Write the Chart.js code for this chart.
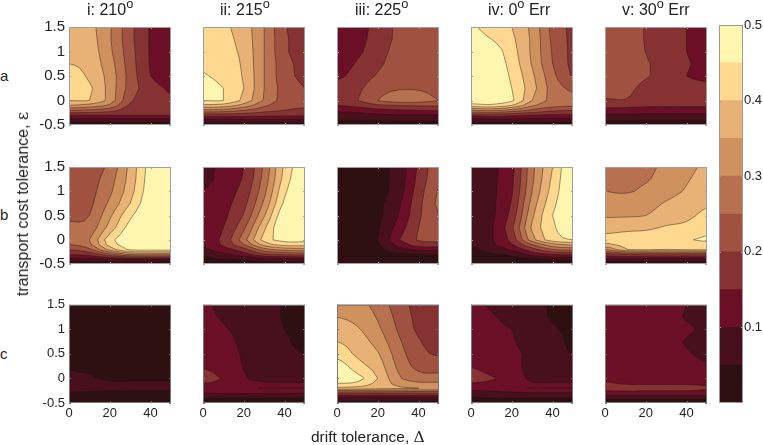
<!DOCTYPE html>
<html><head><meta charset="utf-8">
<script src="https://cdn.jsdelivr.net/npm/chart.js@4"></script>
<style>
html,body{margin:0;padding:0;background:#fff;width:763px;height:445px;overflow:hidden}
canvas{position:absolute}
.t{position:absolute;font-family:"Liberation Sans",Arial,sans-serif;color:#222;white-space:nowrap;line-height:1}
sup{font-size:.8em;line-height:0;vertical-align:baseline;position:relative;top:-.55em}
.s{font-family:"DejaVu Serif","Liberation Serif",serif}
</style></head><body>
<script>
const driftValues=[0,10,20,30,40,50];
const costValues=[1.5,1.25,1,0.75,0.5,0.25,0,-0.1,-0.2,-0.3,-0.4,-0.5];
const levels=[0,0.05,0.1,0.15,0.2,0.25,0.3,0.35,0.4,0.45,0.5];
const bandColors=["#2F1011","#480F1D","#6A0F26","#863232","#A1513F","#B8714F","#CF925F","#E8B176","#FDD88E","#FEF5AE"];
const columnTitles=["i: 210","ii: 215","iii: 225","iv: 0","v: 30"];
const columnSuffix=["","",""," Err"," Err"];
const rowNames=["a","b","c"];
const colorbarTicks=[0.1,0.2,0.3,0.4,0.5];

// each panel: one list per drift value, running over costValues
const aI=[
[.38,.385,.39,.40,.43,.43,.40,.35,.25,.15,.08,.02],
[.365,.37,.375,.38,.39,.41,.40,.33,.24,.15,.08,.02],
[.305,.305,.31,.32,.33,.33,.33,.29,.22,.15,.08,.02],
[.215,.215,.22,.225,.23,.23,.21,.19,.17,.15,.08,.02],
[.145,.145,.145,.145,.15,.17,.17,.17,.165,.15,.08,.02],
[.125,.125,.125,.125,.13,.145,.155,.16,.16,.15,.08,.02]];
const aII=[
[.44,.44,.44,.44,.455,.48,.45,.39,.29,.17,.09,.02],
[.41,.415,.42,.43,.43,.45,.45,.38,.28,.17,.09,.02],
[.375,.38,.385,.39,.395,.40,.385,.33,.25,.17,.09,.02],
[.30,.30,.30,.30,.30,.30,.295,.26,.22,.165,.09,.02],
[.205,.21,.21,.22,.22,.23,.23,.22,.20,.16,.09,.02],
[.18,.18,.18,.185,.19,.20,.22,.21,.19,.16,.09,.02]];
const aIII=[
[.115,.115,.12,.125,.14,.17,.175,.15,.11,.075,.05,.02],
[.135,.135,.14,.155,.17,.19,.2,.165,.12,.08,.05,.02],
[.165,.17,.18,.19,.205,.23,.25,.19,.135,.09,.055,.02],
[.21,.21,.215,.22,.225,.245,.28,.2,.145,.095,.06,.02],
[.22,.22,.22,.225,.23,.245,.275,.205,.15,.095,.06,.02],
[.23,.23,.23,.23,.23,.235,.25,.205,.155,.10,.06,.02]];
const aIV=[
[.46,.48,.50,.50,.50,.50,.49,.43,.30,.16,.07,.02],
[.42,.45,.48,.49,.50,.50,.49,.44,.31,.17,.08,.02],
[.40,.41,.42,.43,.44,.45,.46,.40,.28,.16,.08,.02],
[.335,.34,.34,.345,.36,.37,.35,.31,.24,.15,.08,.02],
[.235,.24,.245,.25,.265,.28,.285,.27,.21,.14,.08,.02],
[.19,.19,.19,.19,.195,.24,.27,.26,.20,.14,.08,.02]];
const aV=[
[.24,.24,.24,.235,.235,.225,.195,.17,.13,.09,.055,.02],
[.225,.225,.225,.225,.225,.215,.198,.165,.13,.09,.055,.02],
[.197,.197,.199,.205,.205,.185,.18,.16,.125,.09,.055,.02],
[.17,.17,.17,.18,.18,.175,.175,.16,.125,.09,.055,.02],
[.15,.15,.15,.155,.15,.165,.17,.16,.125,.09,.055,.02],
[.125,.125,.13,.135,.145,.155,.165,.16,.125,.09,.055,.02]];
const bI=[
[.225,.225,.225,.23,.24,.26,.27,.248,.205,.155,.09,.01],
[.225,.23,.235,.24,.25,.27,.30,.29,.24,.17,.09,.01],
[.265,.28,.29,.31,.34,.37,.43,.42,.37,.24,.10,.01],
[.365,.37,.38,.40,.44,.47,.49,.48,.46,.31,.11,.01],
[.47,.475,.48,.49,.50,.50,.50,.49,.47,.32,.11,.01],
[.50,.50,.50,.50,.50,.50,.50,.49,.47,.32,.11,.01]];
const bII=[
[.06,.07,.11,.11,.115,.12,.12,.11,.09,.065,.035,.01],
[.13,.13,.13,.135,.14,.15,.165,.16,.13,.09,.05,.01],
[.15,.155,.17,.185,.205,.24,.28,.25,.18,.13,.06,.015],
[.26,.27,.285,.31,.345,.39,.42,.37,.28,.19,.08,.015],
[.41,.42,.44,.46,.49,.50,.47,.42,.32,.21,.09,.015],
[.49,.50,.50,.50,.50,.50,.47,.42,.33,.22,.09,.015]];
const bIII=[
[.02,.02,.02,.02,.02,.02,.025,.025,.025,.02,.015,.01],
[.025,.025,.025,.025,.03,.03,.035,.035,.03,.025,.015,.01],
[.035,.035,.035,.04,.04,.045,.05,.045,.04,.03,.02,.01],
[.068,.07,.075,.09,.10,.12,.145,.115,.08,.04,.025,.01],
[.158,.165,.175,.185,.19,.20,.205,.175,.11,.05,.03,.01],
[.235,.24,.255,.26,.25,.24,.215,.18,.115,.055,.03,.01]];
const bIV=[
[.06,.06,.06,.06,.06,.06,.055,.052,.04,.03,.02,.01],
[.09,.09,.09,.09,.09,.095,.095,.09,.07,.045,.025,.01],
[.135,.14,.145,.155,.17,.19,.17,.145,.11,.06,.03,.01],
[.285,.29,.30,.32,.34,.36,.33,.25,.18,.12,.04,.01],
[.40,.41,.42,.435,.45,.44,.43,.33,.25,.15,.06,.01],
[.50,.50,.50,.50,.50,.49,.45,.36,.27,.16,.06,.01]];
const bV=[
[.29,.29,.30,.32,.345,.375,.425,.39,.30,.18,.09,.01],
[.285,.285,.295,.325,.345,.385,.43,.415,.395,.20,.09,.01],
[.285,.295,.31,.33,.35,.39,.435,.425,.41,.21,.09,.01],
[.315,.32,.33,.355,.375,.405,.44,.43,.40,.21,.09,.01],
[.335,.345,.355,.375,.39,.41,.445,.43,.41,.21,.09,.01],
[.36,.37,.375,.395,.41,.43,.46,.43,.41,.21,.09,.01]];
const cI=[
[.03,.03,.03,.03,.035,.045,.06,.065,.06,.047,.03,.02],
[.025,.025,.025,.03,.03,.04,.055,.06,.06,.045,.03,.02],
[.02,.02,.02,.025,.03,.035,.045,.055,.06,.042,.03,.02],
[.02,.02,.02,.025,.03,.035,.045,.055,.06,.04,.03,.02],
[.02,.02,.02,.025,.03,.035,.045,.055,.06,.04,.03,.02],
[.02,.02,.02,.025,.03,.035,.045,.055,.06,.04,.03,.02]];
const cII=[
[.105,.11,.12,.125,.13,.145,.17,.15,.125,.10,.05,.02],
[.09,.095,.105,.115,.12,.13,.145,.14,.135,.105,.05,.02],
[.07,.075,.085,.09,.095,.098,.105,.12,.14,.105,.05,.02],
[.06,.06,.065,.07,.075,.08,.085,.105,.153,.105,.05,.02],
[.048,.048,.05,.055,.06,.07,.08,.105,.153,.105,.05,.02],
[.04,.04,.04,.04,.05,.06,.075,.105,.153,.10,.05,.02]];
const cIII=[
[.34,.35,.37,.40,.43,.48,.50,.45,.39,.20,.08,.03],
[.32,.335,.355,.375,.39,.42,.47,.44,.38,.20,.08,.03],
[.28,.295,.31,.33,.355,.375,.40,.385,.37,.20,.08,.03],
[.225,.235,.245,.26,.275,.29,.31,.335,.36,.20,.08,.03],
[.18,.185,.19,.205,.215,.235,.27,.31,.35,.20,.08,.03],
[.148,.155,.165,.18,.195,.225,.27,.31,.35,.20,.08,.03]];
const cIV=[
[.105,.11,.115,.12,.13,.148,.17,.148,.115,.08,.045,.02],
[.095,.105,.115,.115,.12,.13,.155,.14,.12,.085,.05,.02],
[.07,.08,.10,.105,.11,.115,.13,.125,.135,.09,.05,.02],
[.065,.07,.07,.075,.09,.085,.09,.103,.153,.095,.05,.02],
[.045,.045,.055,.065,.075,.08,.08,.105,.153,.095,.05,.02],
[.035,.04,.04,.04,.048,.07,.08,.105,.153,.095,.05,.02]];
const cV=[
[.125,.125,.13,.13,.13,.135,.14,.155,.17,.13,.06,.02],
[.125,.125,.13,.13,.13,.135,.14,.145,.17,.135,.06,.02],
[.125,.125,.13,.13,.13,.13,.135,.145,.165,.135,.06,.02],
[.115,.12,.125,.125,.125,.13,.135,.145,.165,.135,.06,.02],
[.10,.095,.11,.095,.105,.12,.135,.145,.165,.135,.06,.02],
[.09,.085,.09,.085,.09,.105,.135,.145,.155,.135,.06,.02]];
const panels=[[aI,aII,aIII,aIV,aV],[bI,bII,bIII,bIV,bV],[cI,cII,cIII,cIV,cV]];

const panelLeft=[69,203,337,471,605], panelTop=[24,164,303], panelW=102, panelH=[101,100,100];
const titleLeft=[87,220,355,488,622];
const M={l:45,r:10,t:10,b:25};
const FONT='"Liberation Sans",Arial,sans-serif';

// resample each column set along drift so drawn contours run smoothly through the read values
const SUB=4;
function fineDrift(){const o=[];for(let i=0;i<driftValues.length-1;i++)for(let k=0;k<SUB;k++)o.push(driftValues[i]+(driftValues[i+1]-driftValues[i])*k/SUB);o.push(driftValues[driftValues.length-1]);return o;}
function fineColumns(g){
  const n=g.length,out=[];
  for(let i=0;i<n-1;i++)for(let k=0;k<(i===n-2?SUB+1:SUB);k++){
    const t=k/SUB,p0=g[Math.max(i-1,0)],p1=g[i],p2=g[i+1],p3=g[Math.min(i+2,n-1)];
    out.push(p1.map((_,j)=>{
      const a=p0[j],b=p1[j],c=p2[j],d=p3[j];
      const v=0.5*((2*b)+(-a+c)*t+(2*a-5*b+4*c-d)*t*t+(-a+3*b-3*c+d)*t*t*t);
      return Math.max(Math.min(b,c)-0.004,Math.min(Math.max(b,c)+0.004,v));
    }));
  }
  return out;
}
const fineX=fineDrift();

// filled contours: clip every grid cell at each level, placing corners through the chart's scales
const contourPlugin={id:'contour',beforeDatasetsDraw(chart){
  const ds=chart.data.datasets[0]; if(!ds.grid) return;
  const g=fineColumns(ds.grid),ctx=chart.ctx,sx=chart.scales.x,sy=chart.scales.y,a=chart.chartArea;
  ctx.save();ctx.beginPath();ctx.rect(a.left,a.top,a.width,a.height);ctx.clip();
  ctx.fillStyle=bandColors[0];ctx.fillRect(a.left,a.top,a.width,a.height);
  const segs=[];
  for(let l=1;l<bandColors.length;l++){
    const L=levels[l];
    ctx.beginPath();
    for(let i=0;i<fineX.length-1;i++)for(let j=0;j<costValues.length-1;j++){
      const c=[[i,j],[i+1,j],[i+1,j+1],[i,j+1]].map(([p,q])=>({x:sx.getPixelForValue(fineX[p]),y:sy.getPixelForValue(costValues[q]),v:g[p][q]}));
      const poly=[],cross=[];
      for(let k=0;k<4;k++){
        const A=c[k],B=c[(k+1)%4];
        if(A.v>=L)poly.push(A);
        if((A.v>=L)!==(B.v>=L)){
          const t=(L-A.v)/(B.v-A.v);
          const P={x:A.x+t*(B.x-A.x),y:A.y+t*(B.y-A.y)};
          poly.push(P);cross.push(P);
        }
      }
      if(poly.length>2){
        ctx.moveTo(poly[0].x,poly[0].y);
        for(let k=1;k<poly.length;k++)ctx.lineTo(poly[k].x,poly[k].y);
        ctx.closePath();
      }
      for(let k=0;k+1<cross.length;k+=2)segs.push([cross[k],cross[k+1]]);
    }
    ctx.fillStyle=bandColors[l];ctx.fill();
  }
  ctx.beginPath();
  segs.forEach(([p,q])=>{ctx.moveTo(p.x,p.y);ctx.lineTo(q.x,q.y);});
  ctx.strokeStyle='rgba(25,20,15,0.62)';ctx.lineWidth=0.7;ctx.stroke();
  ctx.restore();
}};
// box and inward ticks on all four sides
const framePlugin={id:'frame',afterDatasetsDraw(chart){
  const ctx=chart.ctx,a=chart.chartArea,sx=chart.scales.x,sy=chart.scales.y,col=chart.options.frameColor||'#9a9a9a';
  ctx.save();ctx.strokeStyle=col;ctx.lineWidth=1;ctx.beginPath();
  if(sx.type==='linear')sx.ticks.forEach(t=>{const p=Math.round(sx.getPixelForValue(t.value))+.5;ctx.moveTo(p,a.top);ctx.lineTo(p,a.top+2);ctx.moveTo(p,a.bottom);ctx.lineTo(p,a.bottom-2);});
  sy.ticks.forEach(t=>{const p=Math.round(sy.getPixelForValue(t.value))+.5;ctx.moveTo(a.left,p);ctx.lineTo(a.left+2,p);ctx.moveTo(a.right,p);ctx.lineTo(a.right-2,p);});
  ctx.stroke();
  ctx.strokeRect(a.left+.5,a.top+.5,a.width-1,a.height-1);
  ctx.restore();
}};

panels.forEach((row,r)=>row.forEach((grid,c)=>{
  const cv=document.createElement('canvas');
  cv.width=M.l+panelW+M.r;cv.height=M.t+panelH[r]+M.b;
  cv.style.left=(panelLeft[c]-M.l)+'px';cv.style.top=(panelTop[r]-M.t)+'px';
  document.body.appendChild(cv);
  const pts=[];driftValues.forEach((x,i)=>costValues.forEach((y,j)=>pts.push({x,y,v:grid[i][j]})));
  new Chart(cv,{type:'scatter',
    data:{datasets:[{label:rowNames[r]+' '+columnTitles[c],data:pts,grid,pointRadius:0,showLine:false}]},
    plugins:[contourPlugin,framePlugin],
    options:{responsive:false,animation:false,devicePixelRatio:1,
      frameColor:r===2?'#777':'#a0a0a0',
      layout:{padding:{left:0,top:M.t,right:M.r,bottom:0}},
      plugins:{legend:{display:false},tooltip:{enabled:false}},
      scales:{
        x:{type:'linear',min:0,max:50,afterFit(s){s.height=M.b;},
          grid:{display:false,drawTicks:false},border:{display:false},
          ticks:{stepSize:20,includeBounds:false,maxRotation:0,padding:3,color:'#222',font:{family:FONT,size:13},
            callback:v=>r===2?String(v):''}},
        y:{type:'linear',min:-0.5,max:1.5,afterFit(s){s.width=M.l;},
          grid:{display:false,drawTicks:false},border:{display:false},
          ticks:{stepSize:0.5,padding:4,color:'#222',font:{family:FONT,size:r===2?13:15},
            callback:v=>c===0?String(v):''}}
      }}});
}));

// colour bar
(function(){
  const cv=document.createElement('canvas');
  cv.width=63;cv.height=398;cv.style.left='700px';cv.style.top='15px';
  document.body.appendChild(cv);
  new Chart(cv,{type:'bar',
    data:{labels:['bar'],datasets:bandColors.map((col,i)=>({label:levels[i]+'-'+levels[i+1],data:[levels[i+1]-levels[i]],backgroundColor:col,borderWidth:0,stack:'s',barPercentage:1,categoryPercentage:1}))},
    plugins:[framePlugin],
    options:{responsive:false,animation:false,devicePixelRatio:1,frameColor:'#9a9a9a',
      layout:{padding:{left:19,top:10,right:0,bottom:10}},
      plugins:{legend:{display:false},tooltip:{enabled:false}},
      scales:{
        x:{stacked:true,display:false},
        y:{stacked:true,position:'right',min:0,max:0.5,afterFit(s){s.width=20;},
          afterBuildTicks(s){s.ticks=colorbarTicks.map(value=>({value}));},
          grid:{display:false,drawTicks:false},border:{display:false},
          ticks:{padding:1,color:'#222',font:{family:FONT,size:13},callback:v=>String(v)}}
      }}});
})();

// text
function T(html,x,y,size,extra){
  const d=document.createElement('div');d.className='t';d.innerHTML=html;
  d.style.cssText+=`left:${x}px;top:${y}px;font-size:${size}px;`+(extra||'');
  document.body.appendChild(d);return d;
}
columnTitles.forEach((t,i)=>T(t+'<sup>o</sup>'+columnSuffix[i],titleLeft[i],2,16));
rowNames.forEach((n,i)=>T(n,0,[68,207,346][i],15));
T('transport cost tolerance, <span class="s">ε</span>',23,204,16,'transform:translate(-50%,-50%) rotate(-90deg);');
T('drift tolerance, <span class="s">Δ</span>',311,429,15.5);
</script>
</body></html>
